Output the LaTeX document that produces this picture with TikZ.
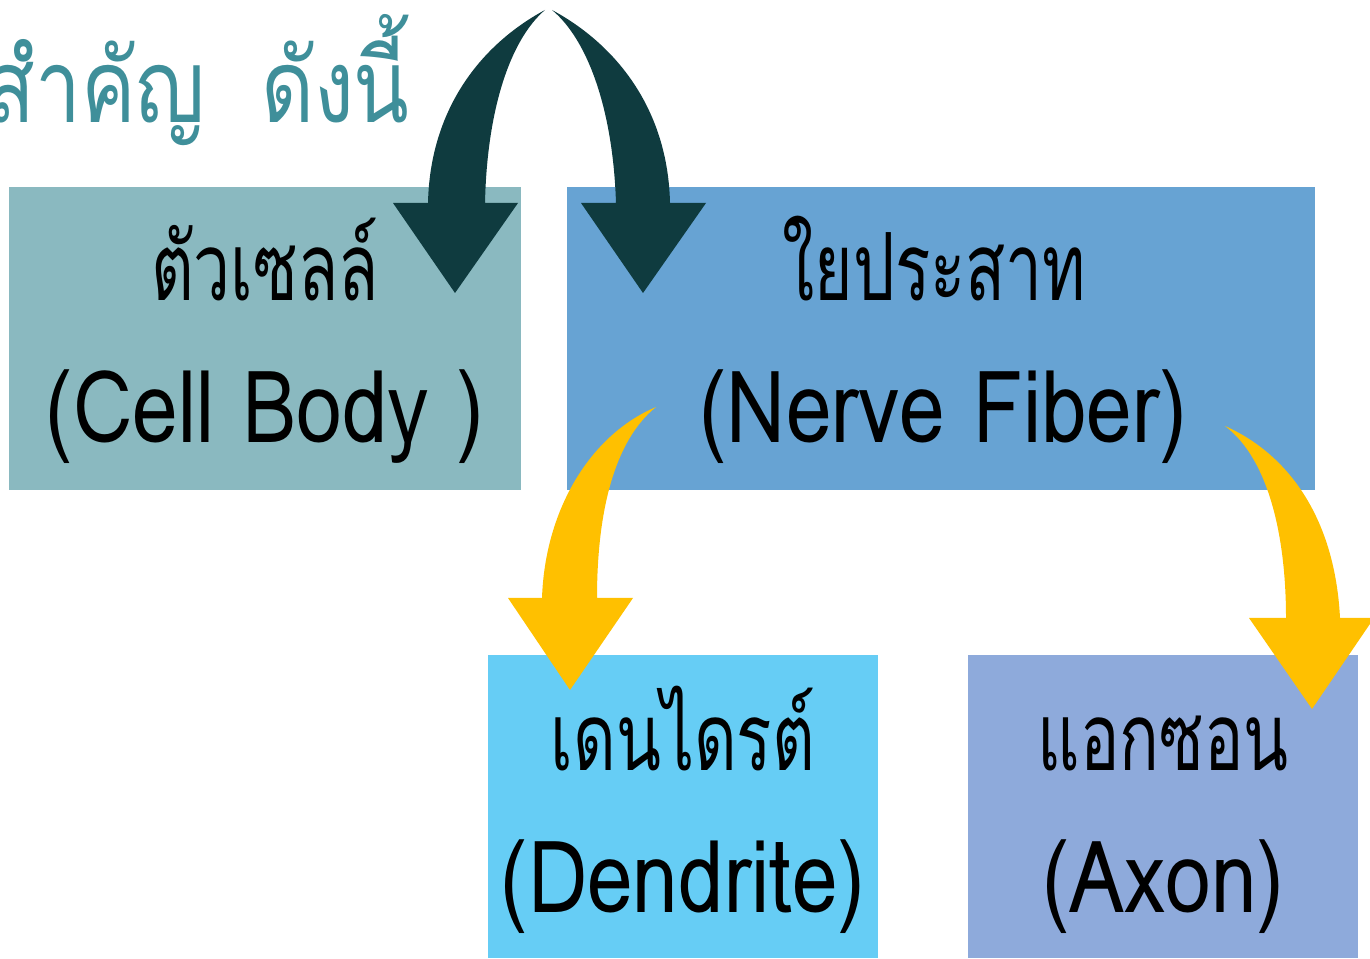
\documentclass[tikz,border=0pt]{standalone}
\usepackage{fontspec}
\setmainfont{Loma}[Script=Thai, FakeStretch=0.82]
\newfontfamily\thaifont{Loma}[Script=Thai, FakeStretch=0.70]
\newfontfamily\titlefont{Loma}[Script=Thai, FakeStretch=0.80]
\usetikzlibrary{positioning}
\definecolor{bodycol}{HTML}{8AB9C0}
\definecolor{fibercol}{HTML}{67A3D3}
\definecolor{dendcol}{HTML}{66CDF5}
\definecolor{axoncol}{HTML}{8EAADB}
\definecolor{darkarrow}{HTML}{0F3B3F}
\definecolor{goldarrow}{HTML}{FFC000}
\definecolor{titlecol}{HTML}{3F8F9A}

\begin{document}
\begin{tikzpicture}[
        x = 1pt, y = 1pt, % one unit per pixel
        box/.style = {inner sep = 0pt, minimum height = 303pt},
        th/.style = {inner sep = 0pt, anchor = base, font = \thaifont\fontsize{94}{104}\selectfont},
        en/.style = {inner sep = 0pt, anchor = base, font = \fontsize{100}{110}\selectfont}
      ]

      \useasboundingbox (0,0) rectangle (1370,958);

      % title, cut at the left edge
      \node[inner sep = 0pt, anchor = base east, text = titlecol,
        font = \titlefont\fontsize{102}{112}\selectfont] (title) at (410,835) {สำคัญ\hspace{56pt}ดังนี้};

      % boxes
      \node[box, fill = bodycol, minimum width = 512pt] (body) at (265,619.5) {};
      \node[box, fill = fibercol, minimum width = 748pt] (fiber) [right=46pt of body] {};
      \node[box, fill = dendcol, minimum width = 390pt] (dend) at (683,151.5) {};
      \node[box, fill = axoncol, minimum width = 390pt] (axon) [right=90pt of dend] {};

      % labels
      \node[th] (bodyth) at ([yshift=38pt]body.center) {ตัวเซลล์};
      \node[en] (bodyen) at ([yshift=-104pt]body.center) {(Cell Body )};
      \node[th] (fiberth) at ([xshift=-7pt, yshift=38pt]fiber.center) {ใยประสาท};
      \node[en] (fiberen) at ([xshift=2pt, yshift=-104pt]fiber.center) {(Nerve Fiber)};
      \node[th] (dendth) at ([yshift=36pt]dend.center) {เดนไดรต์};
      \node[en] (denden) at ([yshift=-106pt]dend.center) {(Dendrite)};
      \node[th] (axonth) at ([yshift=36pt]axon.center) {แอกซอน};
      \node[en] (axonen) at ([yshift=-106pt]axon.center) {(Axon)};

      % curved block arrows, in pixel coordinates
      \begin{scope}[shift = {(0,958)}, yscale = -1]
        \fill[darkarrow] (545,10) .. controls (480,45) and (430,110) .. (428,203)
          -- (393,203) -- (455,293) -- (518,203) -- (485,203)
          .. controls (487,110) and (510,40) .. (545,10) -- cycle;
        \fill[darkarrow] (552,10) .. controls (617,45) and (668,110) .. (670,203)
          -- (706,203) -- (643,293) -- (581,203) -- (616,203)
          .. controls (613,110) and (588,40) .. (552,10) -- cycle;
        \fill[goldarrow] (656,407) .. controls (590,435) and (545,510) .. (542,598)
          -- (508,598) -- (570,690) -- (633,598) -- (597,598)
          .. controls (597,510) and (615,440) .. (656,407) -- cycle;
        \fill[goldarrow] (1225,426) .. controls (1270,460) and (1286,540) .. (1286,618)
          -- (1249,618) -- (1312,709) -- (1374,618) -- (1340,618)
          .. controls (1335,520) and (1290,455) .. (1225,426) -- cycle;
      \end{scope}
  \end{tikzpicture}
\end{document}
